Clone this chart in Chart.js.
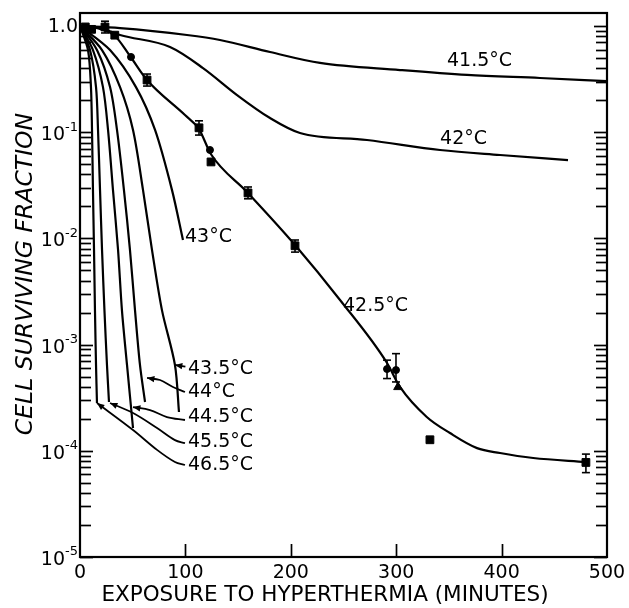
<!DOCTYPE html>
<html>
<head>
<meta charset="utf-8">
<title>Cell survival after hyperthermia</title>
<script src="https://cdn.jsdelivr.net/npm/chart.js@4.4.1/dist/chart.umd.min.js"></script>
<style>
  html, body { margin: 0; padding: 0; background: #fff; }
</style>
</head>
<body>
<canvas id="survival" width="629" height="608"></canvas>
<script>
// exposure time (minutes) and surviving fraction
const t415 = [0, 38, 101.5, 132.8, 180.3, 227.7, 303.6, 367.2, 436.4, 500];
const s415 = [1.0, 0.957, 0.823, 0.738, 0.569, 0.449, 0.385, 0.346, 0.324, 0.303];

const t42 = [0, 19, 38, 85.4, 116.7, 149, 180.3, 208.7, 272.3, 341.6, 398.5, 463];
const s42 = [1.0, 0.957, 0.823, 0.634, 0.402, 0.224, 0.136, 0.0984, 0.0845, 0.068, 0.061, 0.0547];

const t425 = [0, 19, 33.2, 47.4, 63.6, 99.6, 112.9, 124.3, 158.4, 204, 246.7, 291.3, 303.6, 329, 351, 376.7, 398.5, 430, 480];
const s425 = [1.0, 0.937, 0.805, 0.522, 0.31, 0.145, 0.107, 0.062, 0.0274, 0.00867, 0.00263, 0.000671, 0.000399, 0.000208, 0.000147, 0.000106, 0.0000953, 0.0000855, 0.0000785];

const t43 = [0, 28.5, 53.1, 71.2, 87.3, 97.7];
const s43 = [1.0, 0.594, 0.266, 0.105, 0.0285, 0.00966];

const t435 = [0, 20.9, 38, 50.3, 59.8, 68.3, 77.8, 90.1, 93.9];
const s435 = [1.0, 0.594, 0.266, 0.105, 0.0285, 0.0078, 0.0021, 0.000643, 0.000232];

const t44 = [0, 16.1, 28.5, 35.1, 41.7, 47.4, 52.2, 56.9, 61.7];
const s44 = [1.0, 0.594, 0.266, 0.105, 0.0285, 0.0078, 0.0021, 0.000643, 0.000288];

const t445 = [0, 12.3, 21.8, 26.6, 31.3, 36.1, 39.8, 44.6, 50.3];
const s445 = [1.0, 0.594, 0.266, 0.105, 0.0285, 0.0078, 0.0021, 0.000643, 0.000164];

const t455 = [0, 9.5, 15.2, 17.1, 19.0, 20.9, 23.2, 25.6, 27.5];
const s455 = [1.0, 0.594, 0.266, 0.105, 0.0285, 0.0078, 0.0021, 0.000643, 0.000288];

const t465 = [0, 7.6, 10.4, 11.4, 12.3, 13.3, 14.2, 15.2, 16.1];
const s465 = [1.0, 0.594, 0.266, 0.105, 0.0285, 0.0078, 0.0021, 0.000643, 0.000282];

// leader lines from the curve ends to their labels
const leadT435 = [90.1, 100];
const leadS435 = [0.000643, 0.000620];
const leadT44 = [63.6, 75.9, 88.2, 99.6];
const leadS44 = [0.000485, 0.000464, 0.000399, 0.000358];
const leadT445 = [50.3, 66.4, 82.5, 99.6];
const leadS445 = [0.000258, 0.000242, 0.000208, 0.000195];
const leadT455 = [28.5, 50.3, 73.1, 90.1, 99.6];
const leadS455 = [0.000282, 0.000227, 0.000164, 0.000126, 0.000118];
const leadT465 = [16.1, 50.3, 73.1, 90.1, 99.6];
const leadS465 = [0.000282, 0.000157, 0.000102, 0.0000784, 0.0000735];

// measured points at 42.5 C
const sqT = [5, 11, 23.7, 33, 63.6, 112.9, 124.3, 159.4, 204, 332, 480];
const sqS = [0.98, 0.93, 0.979, 0.82, 0.31, 0.11, 0.0525, 0.0268, 0.00852, 0.000127, 0.0000777];
const ciT = [48.4, 123.3, 291.3, 299.8];
const ciS = [0.511, 0.068, 0.000589, 0.000576];
const trT = [301.7];
const trS = [0.000398];

// error bars
const errT = [23.7, 63.6, 112.9, 159.4, 204, 291.3, 299.8, 480];
const errLo = [0.86, 0.272, 0.094, 0.0236, 0.00743, 0.000479, 0.000445, 0.0000623];
const errHi = [1.11, 0.353, 0.128, 0.0305, 0.00966, 0.000714, 0.000822, 0.0000931];

// curve labels
const labelText = ['41.5°C', '42°C', '42.5°C', '43°C', '43.5°C', '44°C', '44.5°C', '45.5°C', '46.5°C'];
const labelT = [348.2, 341.6, 249.5, 99.6, 102.5, 102.5, 102.5, 102.5, 102.5];
const labelS = [0.468, 0.0862, 0.0023, 0.0102, 0.000592, 0.000358, 0.000208, 0.000121, 0.0000735];

// axes
const xTicks = [0, 100, 200, 300, 400, 500];
const yExponents = [0, -1, -2, -3, -4, -5];
const xTitle = 'EXPOSURE TO HYPERTHERMIA (MINUTES)';
const yTitle = 'CELL SURVIVING FRACTION';

const INK = '#000';
const FONT = '"DejaVu Sans", sans-serif';

function pts(t, s) {
    return t.map((v, i) => ({ x: v, y: s[i] }));
}

// long curves: monotone spline; steep ones: plain bezier tension
function curve(t, s, steep) {
    const ds = {
        data: pts(t, s),
        showLine: true,
        borderColor: INK,
        borderWidth: 2.2,
        pointRadius: 0,
        fill: false
    };
    if (steep) ds.tension = 0.3;
    else ds.cubicInterpolationMode = 'monotone';
    return ds;
}

function leader(t, s) {
    return {
        data: pts(t, s),
        showLine: true,
        leader: true,
        borderColor: INK,
        borderWidth: 1.8,
        pointRadius: 0,
        tension: 0.35,
        fill: false
    };
}

function markers(t, s, style, r) {
    return {
        data: pts(t, s),
        showLine: false,
        pointStyle: style,
        pointRadius: r,
        pointBackgroundColor: INK,
        pointBorderColor: INK,
        pointBorderWidth: 1
    };
}

// frame, inward ticks, tick labels, titles, error bars and arrows
const paperAxes = {
    id: 'paperAxes',
    afterDatasetsDraw(chart) {
        const { ctx, chartArea: a, scales: { x, y } } = chart;
        ctx.save();
        ctx.strokeStyle = INK;
        ctx.fillStyle = INK;

        const line = (x1, y1, x2, y2) => {
            ctx.beginPath();
            ctx.moveTo(x1, y1);
            ctx.lineTo(x2, y2);
            ctx.stroke();
        };

        // frame
        ctx.lineWidth = 2.2;
        ctx.strokeRect(a.left, a.top, a.right - a.left, a.bottom - a.top);

        // log ticks on both vertical sides
        ctx.lineWidth = 1.7;
        yExponents.forEach(e => {
            for (let m = 1; m < 10; m++) {
                const v = m * Math.pow(10, e);
                if (v > y.max || v < y.min) continue;
                const py = Math.round(y.getPixelForValue(v)) + 0.5;
                const len = m === 1 ? 13 : 11;
                line(a.left, py, a.left + len, py);
                line(a.right - len, py, a.right, py);
            }
        });

        // bottom ticks
        xTicks.forEach(v => {
            if (v === 0 || v === 500) return;
            const px = Math.round(x.getPixelForValue(v)) + 0.5;
            line(px, a.bottom, px, a.bottom - 13);
        });

        // x tick labels
        ctx.font = '19px ' + FONT;
        ctx.textAlign = 'center';
        ctx.textBaseline = 'middle';
        xTicks.forEach(v => {
            ctx.fillText(String(v), x.getPixelForValue(v), a.bottom + 16);
        });

        // y tick labels with superscript exponent
        const right = a.left - 2;
        yExponents.forEach(e => {
            const py = y.getPixelForValue(Math.pow(10, e));
            if (e === 0) {
                ctx.font = '19px ' + FONT;
                ctx.textAlign = 'right';
                ctx.fillText('1.0', right, py + 1);
                return;
            }
            ctx.font = '13px ' + FONT;
            const sup = '-' + (-e);
            const w = ctx.measureText(sup).width;
            ctx.textAlign = 'left';
            ctx.fillText(sup, right - w, py - 5);
            ctx.font = '19px ' + FONT;
            ctx.textAlign = 'right';
            ctx.fillText('10', right - w, py + 3);
        });

        // axis titles
        ctx.font = '21.5px ' + FONT;
        ctx.textAlign = 'center';
        ctx.fillText(xTitle, 325, 595);
        ctx.save();
        ctx.translate(26, 274);
        ctx.rotate(-Math.PI / 2);
        ctx.font = 'italic 23.5px ' + FONT;
        ctx.fillText(yTitle, 0, 0);
        ctx.restore();

        // curve labels
        ctx.font = '19px ' + FONT;
        ctx.textAlign = 'left';
        labelText.forEach((txt, i) => {
            ctx.fillText(txt, x.getPixelForValue(labelT[i]), y.getPixelForValue(labelS[i]));
        });

        // error bars
        ctx.lineWidth = 1.6;
        errT.forEach((t, i) => {
            const px = x.getPixelForValue(t);
            const lo = y.getPixelForValue(errLo[i]);
            const hi = y.getPixelForValue(errHi[i]);
            line(px, lo, px, hi);
            line(px - 4, lo, px + 4, lo);
            line(px - 4, hi, px + 4, hi);
        });

        // arrowheads at the start of each leader
        chart.data.datasets.forEach(ds => {
            if (!ds.leader) return;
            const p0 = ds.data[0], p1 = ds.data[1];
            const x0 = x.getPixelForValue(p0.x), y0 = y.getPixelForValue(p0.y);
            const x1 = x.getPixelForValue(p1.x), y1 = y.getPixelForValue(p1.y);
            const ang = Math.atan2(y0 - y1, x0 - x1);
            const size = 8;
            ctx.beginPath();
            ctx.moveTo(x0, y0);
            ctx.lineTo(x0 - size * Math.cos(ang - 0.4), y0 - size * Math.sin(ang - 0.4));
            ctx.lineTo(x0 - size * Math.cos(ang + 0.4), y0 - size * Math.sin(ang + 0.4));
            ctx.closePath();
            ctx.fill();
        });

        ctx.restore();
    }
};

const ctx = document.getElementById('survival').getContext('2d');

new Chart(ctx, {
    type: 'scatter',
    data: {
        datasets: [
            curve(t415, s415, false),
            curve(t42, s42, false),
            curve(t425, s425, false),
            curve(t43, s43, true),
            curve(t435, s435, true),
            curve(t44, s44, true),
            curve(t445, s445, true),
            curve(t455, s455, true),
            curve(t465, s465, true),
            leader(leadT435, leadS435),
            leader(leadT44, leadS44),
            leader(leadT445, leadS445),
            leader(leadT455, leadS455),
            leader(leadT465, leadS465),
            markers(sqT, sqS, 'rect', 5.5),
            markers(ciT, ciS, 'circle', 3.5),
            markers(trT, trS, 'triangle', 5)
        ]
    },
    options: {
        responsive: false,
        animation: false,
        devicePixelRatio: 1,
        layout: { padding: { top: 13, right: 22, left: 0, bottom: 0 } },
        plugins: {
            legend: { display: false },
            tooltip: { enabled: false }
        },
        scales: {
            x: {
                type: 'linear',
                min: 0,
                max: 500,
                grid: { display: false },
                border: { display: false },
                ticks: { display: false },
                afterFit: s => { s.height = 51; }
            },
            y: {
                type: 'logarithmic',
                min: 0.00001,
                max: 1.326,
                grid: { display: false },
                border: { display: false },
                ticks: { display: false },
                afterFit: s => { s.width = 80; }
            }
        }
    },
    plugins: [paperAxes]
});
</script>
</body>
</html>
